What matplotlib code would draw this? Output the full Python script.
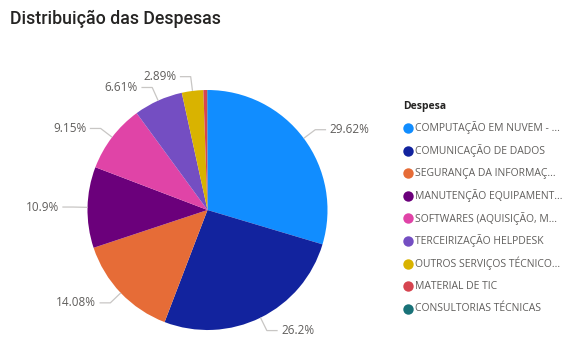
import numpy as np
import matplotlib
matplotlib.use("Agg")
import matplotlib.pyplot as plt
from matplotlib.lines import Line2D

categories = [
    "COMPUTAÇÃO EM NUVEM - ...",
    "COMUNICAÇÃO DE DADOS",
    "SEGURANÇA DA INFORMAÇ...",
    "MANUTENÇÃO EQUIPAMENT...",
    "SOFTWARES (AQUISIÇÃO, M...",
    "TERCEIRIZAÇÃO HELPDESK",
    "OUTROS SERVIÇOS TÉCNICO...",
    "MATERIAL DE TIC",
    "CONSULTORIAS TÉCNICAS",
]
values = [29.62, 26.2, 14.08, 10.9, 9.15, 6.61, 2.89, 0.49, 0.06]
colors = ["#118DFF", "#12239E", "#E66C37", "#6B007B", "#E044A7",
          "#744EC2", "#D9B300", "#D64550", "#197278"]
title = "Distribuição das Despesas"
legend_title = "Despesa"

W, H = 570, 359
fig = plt.figure(figsize=(W / 100, H / 100), dpi=100)
fig.patch.set_facecolor("white")

cx, cy, r = 207.5, 210, 120
ax = fig.add_axes([(cx - r) / W, (H - cy - r) / H, 2 * r / W, 2 * r / H])

wedges, _ = ax.pie(values, colors=colors, startangle=90, counterclock=False,
                   radius=1, wedgeprops=dict(linewidth=0))
ax.set_xlim(-1, 1)
ax.set_ylim(-1, 1)
ax.set_aspect("equal")
ax.axis("off")

lab_color = "#605E5C"
line_color = "#C8C6C4"
total = sum(values)
for w, v in zip(wedges, values):
    if v / total < 0.01:
        continue
    ang = np.deg2rad((w.theta1 + w.theta2) / 2)
    x0, y0 = np.cos(ang), np.sin(ang)
    x1, y1 = 1.12 * x0, 1.12 * y0
    side = 1 if x0 >= 0 else -1
    x2 = x1 + side * 0.09
    ax.plot([1.0 * x0, x1, x2], [1.0 * y0, y1, y1], color=line_color,
            lw=0.9, clip_on=False, solid_capstyle="butt")
    ax.text(x2 + side * 0.03, y1, f"{v:g}%", ha="left" if side > 0 else "right",
            va="center", fontsize=8.5, color=lab_color, family="Open Sans",
            clip_on=False)

fig.text(10 / W, 1 - 19 / H, title, fontsize=12.8, color="#252423",
         family="Roboto", weight="medium", va="center", ha="left")

fig.text(403 / W, 1 - 107 / H, legend_title, fontsize=7.5, color="#252423",
         family="Open Sans", weight="bold", va="center", ha="left")
y = 128
for cat, col in zip(categories, colors):
    fig.add_artist(Line2D([408 / W], [1 - y / H], marker="o", markersize=7.5,
                          color=col, markeredgewidth=0, transform=fig.transFigure))
    fig.text(415 / W, 1 - y / H, cat, fontsize=7.5, color=lab_color,
             family="Open Sans", va="center", ha="left")
    y += 22.6

fig.savefig("out.png", dpi=100, facecolor="white")
